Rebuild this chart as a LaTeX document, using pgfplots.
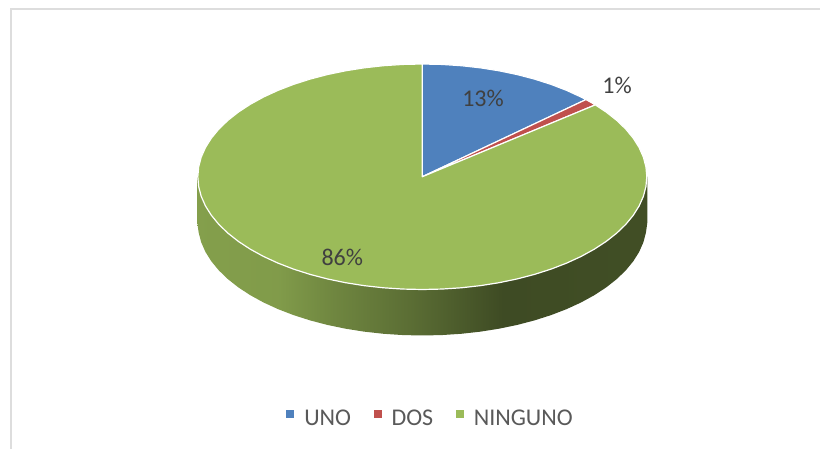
\documentclass[border=0pt]{standalone}
\usepackage{fontspec}
\setmainfont{Carlito}
\usepackage{pgfplots}
\pgfplotsset{compat=1.18}
\definecolor{uno}{HTML}{4F81BD}
\definecolor{dos}{HTML}{C0504D}
\definecolor{ninguno}{HTML}{9BBB59}
\definecolor{labeltxt}{HTML}{404040}
\definecolor{legtxt}{HTML}{595959}
\definecolor{frameline}{HTML}{DDDDDD}
\pgfdeclarehorizontalshading{sidegrad}{100bp}{
  color(0bp)=(ninguno!85!black);
  color(25bp)=(ninguno!85!black);
  color(34bp)=(ninguno!83!black);
  color(40bp)=(ninguno!72!black);
  color(49bp)=(ninguno!58!black);
  color(59bp)=(ninguno!40!black);
  color(75bp)=(ninguno!42!black);
  color(100bp)=(ninguno!42!black)}
\begin{document}
\begin{tikzpicture}
\begin{axis}[
  scale only axis, width=820pt, height=449pt,
  xmin=-422.3, xmax=397.7, ymin=-272.25, ymax=176.75,
  hide axis,
  legend style={draw=none, fill=none, at={(axis cs:8.2,-241.5)}, anchor=center,
    font=\fontsize{24}{26}\selectfont, text=legtxt,
    legend columns=3, inner sep=0pt,
    /tikz/every odd column/.style={column sep=8pt},
    /tikz/every even column/.style={column sep=20.5pt}},
  legend image code/.code={\path[#1,draw=none] (0pt,0.7pt) rectangle (8pt,8.7pt);},
]
% rim of the pie
\addplot[forget plot, draw=none, shading=sidegrad] coordinates {
 (225,0) (225,-46) (223.64,-55.83) (221.09,-65.58) (216.85,-75.18) (210.96,-84.56)
 (203.47,-93.65) (194.42,-102.38) (183.90,-110.67) (171.98,-118.47) (158.75,-125.73)
 (144.31,-132.37) (128.77,-138.36) (112.25,-143.64) (94.88,-148.19) (76.78,-151.95)
 (58.11,-154.91) (38.98,-157.04) (19.57,-158.32) (0,-158.75)
 (-19.57,-158.32) (-38.98,-157.04) (-58.11,-154.91) (-76.78,-151.95) (-94.88,-148.19)
 (-112.25,-143.64) (-128.77,-138.36) (-144.31,-132.37) (-158.75,-125.73) (-171.98,-118.47)
 (-183.90,-110.67) (-194.42,-102.38) (-203.47,-93.65) (-210.96,-84.56) (-216.85,-75.18)
 (-221.09,-65.58) (-223.64,-55.83) (-225,-46) (-225,0)} -- cycle;
% UNO 13 %
\addplot[draw=white, line width=1.2pt, fill=uno, line join=round] coordinates {
 (0,0) (0,112.75) (19.57,112.32) (38.98,111.04) (58.11,108.91) (76.78,105.95)
 (94.88,102.19) (112.25,97.64) (128.77,92.36) (144.31,86.37) (158.75,79.73) (163.66,77.18)} -- cycle;
\addlegendentry{UNO}
% DOS 1 %
\addplot[draw=white, line width=1.2pt, fill=dos, line join=round] coordinates {
 (0,0) (163.66,77.18) (168.40,74.56) (172.98,71.87)} -- cycle;
\addlegendentry{DOS}
% NINGUNO 86 %
\addplot[draw=white, line width=1.2pt, fill=ninguno, line join=round] coordinates {
 (0,0) (172.98,71.87) (183.90,64.67) (194.42,56.38) (203.47,47.65) (210.96,38.56)
 (216.85,29.18) (221.09,19.58) (223.64,9.83) (224.5,0)
 (223.64,-9.83) (221.09,-19.58) (216.85,-29.18) (210.96,-38.56) (203.47,-47.65)
 (194.42,-56.38) (183.90,-64.67) (171.98,-72.47) (158.75,-79.73) (144.31,-86.37)
 (128.77,-92.36) (112.25,-97.64) (94.88,-102.19) (76.78,-105.95) (58.11,-108.91)
 (38.98,-111.04) (19.57,-112.32) (0,-112.75)
 (-19.57,-112.32) (-38.98,-111.04) (-58.11,-108.91) (-76.78,-105.95) (-94.88,-102.19)
 (-112.25,-97.64) (-128.77,-92.36) (-144.31,-86.37) (-158.75,-79.73) (-171.98,-72.47)
 (-183.90,-64.67) (-194.42,-56.38) (-203.47,-47.65) (-210.96,-38.56) (-216.85,-29.18)
 (-221.09,-19.58) (-223.64,-9.83) (-224.5,0)
 (-223.64,9.83) (-221.09,19.58) (-216.85,29.18) (-210.96,38.56) (-203.47,47.65)
 (-194.42,56.38) (-183.90,64.67) (-171.98,72.47) (-158.75,79.73) (-144.31,86.37)
 (-128.77,92.36) (-112.25,97.64) (-94.88,102.19) (-76.78,105.95) (-58.11,108.91)
 (-38.98,111.04) (-19.57,112.32) (0,112.75)} -- cycle;
\addlegendentry{NINGUNO}
% labels
\node[text=labeltxt, font=\fontsize{24}{26}\selectfont] at (axis cs:60.7,78.75) {13\%};
\node[text=labeltxt, font=\fontsize{24}{26}\selectfont] at (axis cs:194.7,91.75) {1\%};
\node[text=labeltxt, font=\fontsize{24}{26}\selectfont] at (axis cs:-80,-80.25) {86\%};
% chart frame
\draw[frameline, line width=2pt] (axis cs:-411.8,-272.25) -- (axis cs:-411.8,167.25) -- (axis cs:397.7,167.25);
\path (rel axis cs:0,0) (rel axis cs:1,1);
\end{axis}
\end{tikzpicture}
\end{document}
